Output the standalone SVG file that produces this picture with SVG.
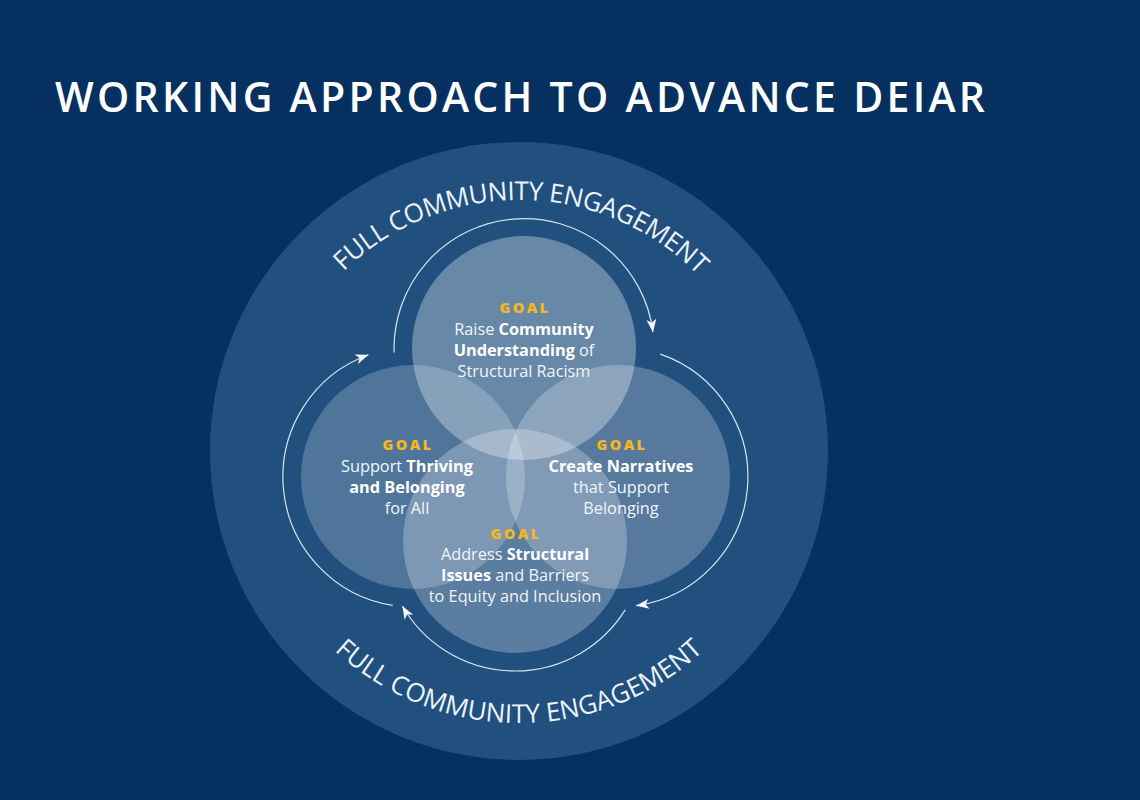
<svg xmlns="http://www.w3.org/2000/svg" width="1140" height="800" viewBox="0 0 1140 800">
  <defs>
    <style>
      .title { font-family: "Open Sans", "Liberation Sans", sans-serif; font-weight: 600; font-size: 41px; fill: #ffffff; }
      .ring { font-family: "Open Sans", "Liberation Sans", sans-serif; font-weight: 400; font-size: 26px; fill: #eef3f9; }
      .goal { font-family: "Open Sans", "Liberation Sans", sans-serif; font-weight: 800; font-size: 14.5px; letter-spacing: 2.4px; fill: #f5b71f; text-anchor: middle; }
      .body { font-family: "Open Sans", "Liberation Sans", sans-serif; font-weight: 400; font-size: 16.3px; fill: #f2f5f9; text-anchor: middle; }
      .b { font-weight: 700; fill: #ffffff; }
      .arc { fill: none; stroke: #d9e3ef; stroke-width: 1.2; marker-end: url(#arrow); }
      .goalcircle { fill: #ffffff; }
    </style>
    <marker id="arrow" markerUnits="userSpaceOnUse" markerWidth="16" markerHeight="12" refX="13" refY="5.5" orient="auto" viewBox="0 0 16 12">
      <path d="M0,0.5 L13,5.5 L0,10.5 L3.5,5.5 Z" fill="#f4f7fb"/>
    </marker>
    <path id="topRing" d="M268,451 A251,251 0 0 1 770,451"/>
    <path id="bottomRing" d="M247,451 A272,272 0 0 0 791,451"/>
  </defs>

  <rect x="0" y="0" width="1140" height="800" fill="#05305f"/>

  <text class="title" x="55" y="112" textLength="930" lengthAdjust="spacing">WORKING APPROACH TO ADVANCE DEIAR</text>

  <g id="engagement">
    <circle cx="519" cy="451" r="309" fill="#21507f"/>
    <text class="ring" letter-spacing="-0.5"><textPath href="#topRing" startOffset="50.3%" text-anchor="middle">FULL COMMUNITY ENGAGEMENT</textPath></text>
    <text class="ring"><textPath href="#bottomRing" startOffset="50%" text-anchor="middle">FULL COMMUNITY ENGAGEMENT</textPath></text>
  </g>

  <g id="goal-thriving">
    <circle class="goalcircle" cx="413" cy="477" r="112" fill-opacity="0.21"/>
  </g>
  <g id="goal-narratives">
    <circle class="goalcircle" cx="618" cy="477" r="112" fill-opacity="0.24"/>
  </g>
  <g id="goal-structural">
    <circle class="goalcircle" cx="515" cy="541" r="112" fill-opacity="0.26"/>
  </g>
  <g id="goal-understanding">
    <circle class="goalcircle" cx="524" cy="348" r="112" fill-opacity="0.32"/>
  </g>

  <g id="labels">
    <g id="label-understanding">
      <text class="goal" x="525" y="313">GOAL</text>
      <text class="body" x="524" y="335">Raise <tspan class="b">Community</tspan></text>
      <text class="body" x="524" y="356"><tspan class="b">Understanding</tspan> of</text>
      <text class="body" x="524" y="377">Structural Racism</text>
    </g>
    <g id="label-thriving">
      <text class="goal" x="408" y="450">GOAL</text>
      <text class="body" x="407" y="471.5">Support <tspan class="b">Thriving</tspan></text>
      <text class="body" x="407" y="492.5"><tspan class="b">and Belonging</tspan></text>
      <text class="body" x="407" y="513.5">for All</text>
    </g>
    <g id="label-narratives">
      <text class="goal" x="622" y="450">GOAL</text>
      <text class="body" x="621" y="471.5"><tspan class="b">Create Narratives</tspan></text>
      <text class="body" x="621" y="492.5">that Support</text>
      <text class="body" x="621" y="513.5">Belonging</text>
    </g>
    <g id="label-structural">
      <text class="goal" x="516" y="539">GOAL</text>
      <text class="body" x="515" y="559.5">Address <tspan class="b">Structural</tspan></text>
      <text class="body" x="515" y="580.5"><tspan class="b">Issues</tspan> and Barriers</text>
      <text class="body" x="515" y="601.5">to Equity and Inclusion</text>
    </g>
  </g>

  <g id="connectors">
    <path class="arc" d="M394.1,352.5 A130,130 0 0 1 653.0,332.2"/>
    <path class="arc" d="M660.3,354.1 A130,130 0 0 1 636.1,605.7"/>
    <path class="arc" d="M625.2,609.9 A130,130 0 0 1 402.4,606"/>
    <path class="arc" d="M392.7,605.4 A130,130 0 0 1 368.5,354.8"/>
  </g>
</svg>
